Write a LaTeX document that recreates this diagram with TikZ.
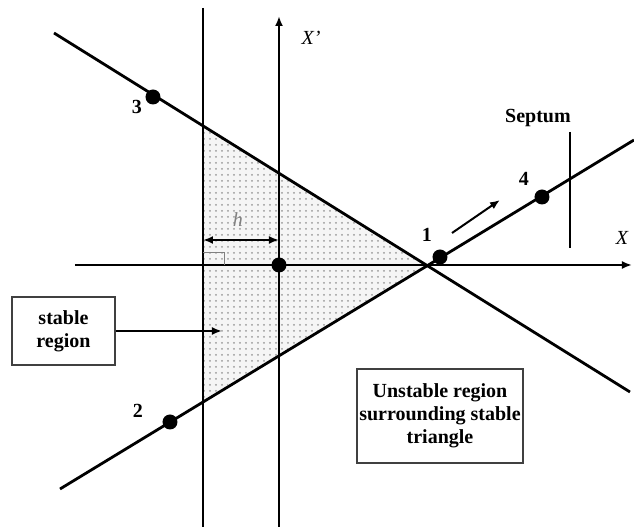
\documentclass[tikz,border=0pt]{standalone}
\usepackage{fontspec}
\setmainfont{Liberation Serif}
\usepackage{tikz}
\usetikzlibrary{arrows.meta, patterns, positioning}

\begin{document}
\begin{tikzpicture}[
    x=0.5pt, y=-0.5pt,
    line/.style={line width=1.4pt},
    axis/.style={line width=1.4pt, -{Latex[length=5pt, width=4pt]}},
    pt/.style={circle, fill=black, inner sep=0pt, minimum size=7.5pt},
    num/.style={font=\bfseries\fontsize{10}{11}\selectfont},
    lbl/.style={font=\itshape\fontsize{10}{11}\selectfont},
    box/.style={draw=black!75, line width=0.6pt, align=center, font=\bfseries\fontsize{10}{11.5}\selectfont, inner sep=0pt},
    arr/.style={line width=1pt, -{Latex[length=5pt, width=4pt]}}
]
\useasboundingbox (0,0) rectangle (634,529);

% stable triangle
\coordinate (ta) at (203,126);
\coordinate (o) at (427,265);
\coordinate (tb) at (203,400);
\fill[gray!8] (ta) -- (o) -- (tb) -- cycle;
\fill[pattern=dots, pattern color=gray!80] (ta) -- (o) -- (tb) -- cycle;

% axes and lines
\coordinate (xs) at (75,265);
\coordinate (xe) at (632,265);
\coordinate (ys) at (279,527);
\coordinate (ye) at (279,16);
\draw[axis] (xs) -- (xe);
\draw[axis] (ys) -- (ye);
\draw[line] (203,8) -- (203,527);
\coordinate (ua) at (54,33);
\coordinate (ub) at (630,392);
\coordinate (la) at (60,489);
\coordinate (lb) at (634,140);
\draw[line] (ua) -- (ub);
\draw[line] (la) -- (lb);

% septum
\coordinate (sa) at (570,132);
\coordinate (sb) at (570,248);
\draw[line] (sa) -- (sb);
\node[num] (sept) at (538,118) {Septum};

% fixed points
\node[pt] (p1) at (440,257) {};
\node[pt] (p2) at (170,422) {};
\node[pt] (p3) at (153,97) {};
\node[pt] (p4) at (542,197) {};
\node[pt] (p0) at (279,265) {};
\node[num] (n1) at (427,235) {1};
\node[num] (n2) at (138,411) {2};
\node[num] (n3) at (137,107) {3};
\node[num] (n4) at (524,179) {4};

% direction of motion
\coordinate (ma) at (452,233);
\coordinate (mb) at (500,200);
\draw[arr] (ma) -- (mb);

% axis labels
\node[lbl] (xl) at (622,238) {X};
\node[lbl] (xpl) at (311,38) {X’};

% half width h
\coordinate (ha) at (203,240);
\coordinate (hb) at (279,240);
\draw[line width=1pt, {Latex[length=5pt, width=4pt]}-{Latex[length=5pt, width=4pt]}] (ha) -- (hb);
\node[lbl, text=gray] (hl) at (238,220) {h};
\draw[gray, line width=0.5pt] (203,253) -| (225,265);

% boxes
\node[box, minimum width=51.5pt, minimum height=34pt] (stab) at (63.5,331) {stable\\region};
\coordinate (sin) at (222,331);
\draw[arr] (stab.east) -- (sin);
\node[box, minimum width=83pt, minimum height=47pt] (unst) at (440,416) {Unstable region\\surrounding stable\\triangle};
\end{tikzpicture}
\end{document}
